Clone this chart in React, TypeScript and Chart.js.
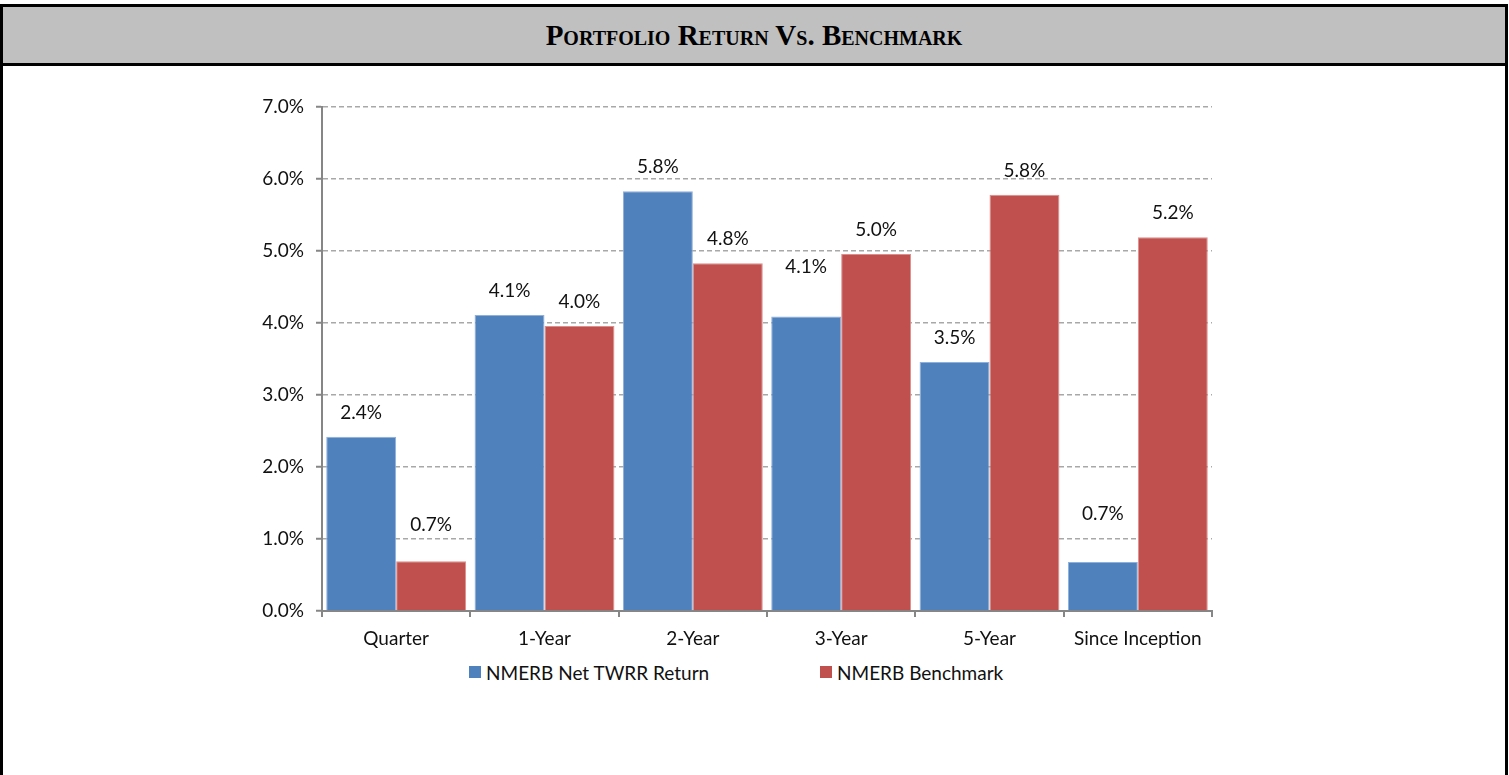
import React, { useEffect, useRef } from "react";
import { Chart, registerables } from "chart.js";

Chart.register(...registerables);

const categories = ["Quarter", "1-Year", "2-Year", "3-Year", "5-Year", "Since Inception"];
const seriesNames = ["NMERB Net TWRR Return", "NMERB Benchmark"];
const netReturn = [2.42, 4.11, 5.83, 4.09, 3.46, 0.68];
const benchmark = [0.69, 3.96, 4.83, 4.96, 5.78, 5.19];
const yTicks = [0, 1, 2, 3, 4, 5, 6, 7];
// extra upward nudge (px) for a few hand-placed value labels
const netLabelLift = [0, 0, 0, 26, 0, 24];
const benchLabelLift = [12, 0, 0, 0, 0, 0];

const BLUE = "#4f81bd";
const RED = "#c0504d";
const FONT = "Lato, 'Open Sans', sans-serif";
const FS = 19;

const valueLabels = {
  id: "valueLabels",
  afterDatasetsDraw(chart: any) {
    const ctx = chart.ctx;
    ctx.save();
    ctx.font = `${FS}px ${FONT}`;
    ctx.fillStyle = "#111";
    ctx.textAlign = "center";
    ctx.textBaseline = "middle";
    const lifts = [netLabelLift, benchLabelLift];
    chart.data.datasets.forEach((ds: any, di: number) => {
      const meta = chart.getDatasetMeta(di);
      meta.data.forEach((bar: any, i: number) => {
        const v = ds.data[i] as number;
        ctx.fillText(v.toFixed(1) + "%", bar.x, bar.y - 24 - lifts[di][i]);
      });
    });
    ctx.restore();
  },
};

export default function App() {
  const ref = useRef<HTMLCanvasElement>(null);

  useEffect(() => {
    if (!ref.current) return;
    const chart = new Chart(ref.current, {
      type: "bar",
      data: {
        labels: categories,
        datasets: [
          {
            label: seriesNames[0],
            data: netReturn,
            backgroundColor: BLUE,
            borderColor: "#8fb0da",
            borderWidth: 1,
          },
          {
            label: seriesNames[1],
            data: benchmark,
            backgroundColor: RED,
            borderColor: "#dc8e8c",
            borderWidth: 1,
          },
        ],
      },
      options: {
        animation: false,
        responsive: false,
        maintainAspectRatio: false,
        datasets: { bar: { categoryPercentage: 0.943, barPercentage: 1 } },
        layout: { padding: { left: 259, right: 293, top: 41, bottom: 0 } },
        plugins: {
          legend: { display: false },
          tooltip: { enabled: false },
          title: { display: false },
        },
        scales: {
          x: {
            offset: true,
            grid: {
              offset: true,
              drawOnChartArea: false,
              drawTicks: true,
              tickLength: 6,
              color: "#868686",
              lineWidth: 2,
            },
            border: { display: true, color: "#868686", width: 2 },
            ticks: { font: { family: FONT, size: FS }, color: "#111", padding: 10 },
            afterFit: (s: any) => {
              s.height = 45;
            },
          },
          y: {
            min: 0,
            max: 7,
            afterBuildTicks: (s: any) => {
              s.ticks = yTicks.map((v) => ({ value: v }));
            },
            grid: {
              color: (c: any) => (c.tick && c.tick.value === 0 ? "rgba(0,0,0,0)" : "#a8a8a8"),
              lineWidth: 1.5,
              drawTicks: true,
              tickLength: 6,
              tickColor: "#868686",
              tickWidth: 2,
            },
            border: { display: true, color: "#868686", width: 2, dash: [5, 3] },
            ticks: {
              font: { family: FONT, size: FS },
              color: "#111",
              padding: 12,
              callback: (v: any) => Number(v).toFixed(1) + "%",
            },
            afterFit: (s: any) => {
              s.width = 60;
            },
          },
        },
      },
      plugins: [valueLabels],
    });
    return () => chart.destroy();
  }, []);

  const legendItem = (name: string, color: string, left: number) => (
    <div
      key={name}
      style={{
        position: "absolute",
        left,
        top: 660,
        height: 24,
        display: "flex",
        alignItems: "center",
        fontFamily: FONT,
        fontSize: FS,
        color: "#111",
        whiteSpace: "nowrap",
      }}
    >
      <span style={{ display: "inline-block", width: 12, height: 12, background: color, marginRight: 5 }} />
      <span>{name}</span>
    </div>
  );

  return (
    <div style={{ position: "absolute", left: 0, top: 0, width: 1509, height: 775, overflow: "hidden", background: "#fff" }}>
      <div
        style={{
          position: "absolute",
          left: 0,
          top: 4,
          width: 1508,
          height: 820,
          border: "3px solid #000",
          boxSizing: "border-box",
        }}
      >
        <div
          style={{
            height: 56,
            background: "#c0c0c0",
            borderBottom: "3px solid #000",
            display: "flex",
            alignItems: "center",
            justifyContent: "center",
            fontFamily: "'Liberation Serif', 'Times New Roman', serif",
            fontWeight: "bold",
            fontVariant: "small-caps",
            fontSize: 29,
            color: "#000",
          }}
        >
          Portfolio Return Vs. Benchmark
        </div>
      </div>
      <canvas
        ref={ref}
        width={1502}
        height={590}
        style={{ position: "absolute", left: 3, top: 66, width: 1502, height: 590 }}
      />
      {legendItem(seriesNames[0], BLUE, 469)}
      {legendItem(seriesNames[1], RED, 820)}
    </div>
  );
}
